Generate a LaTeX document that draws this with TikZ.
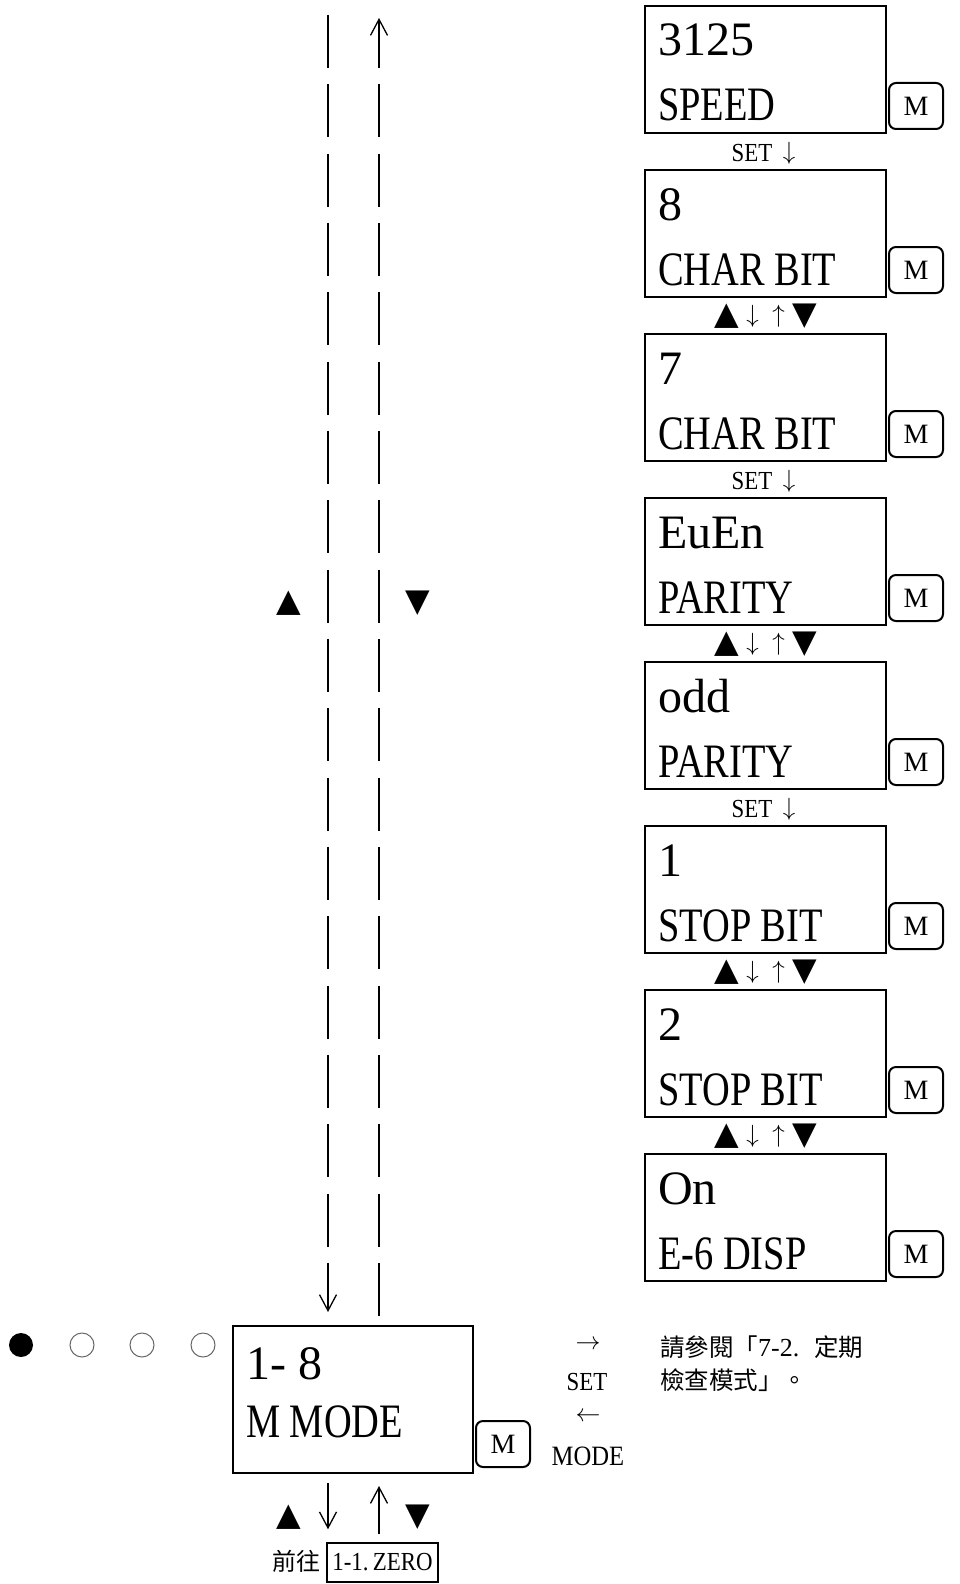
\documentclass[tikz,border=0pt]{standalone}
\usepackage{fontspec}
\setmainfont{Liberation Serif}
\newfontfamily\lcdfont[FakeStretch=0.8]{Liberation Serif}
\newfontfamily\smallfont[FakeStretch=0.88]{Liberation Serif}
\newfontfamily\cjkfont{Noto Sans CJK TC}
\newfontfamily\symfont{DejaVu Sans}
\usetikzlibrary{arrows.meta,positioning,calc}

\tikzset{
  lcd/.style={draw, line width=2pt, minimum width=241pt, minimum height=127pt, inner sep=0pt},
  lcdvalue/.style={anchor=base west, inner sep=0pt, font=\rmfamily\fontsize{48}{48}\selectfont},
  lcdtext/.style={anchor=base west, inner sep=0pt, font=\lcdfont\fontsize{48}{48}\selectfont},
  mkey/.style={draw, line width=2pt, rounded corners=7pt, minimum width=54pt, minimum height=46pt,
    inner sep=0pt, font=\fontsize{28}{28}\selectfont},
  smalltext/.style={inner sep=0pt, font=\smallfont\fontsize{26}{26}\selectfont},
  arrowtext/.style={inner sep=0pt, font=\fontsize{26}{26}\selectfont},
  tri/.style={inner sep=0pt, font=\symfont\fontsize{32}{32}\selectfont},
  dashline/.style={line width=2pt, dash pattern=on 53pt off 16.33pt},
  barb/.style={-{Straight Barb[length=16pt,width=17pt,line width=1.3pt]}},
}

\begin{document}
\begin{tikzpicture}[x=1pt, y=-1pt]
  \useasboundingbox (0,0) rectangle (959,1584);

  % display column on the right
  \foreach \n/\t/\a/\b in {1/6/3125/SPEED, 2/170/8/CHAR BIT, 3/334/7/CHAR BIT,
      4/498/EuEn/PARITY, 5/662/odd/PARITY, 6/826/1/STOP BIT, 7/990/2/STOP BIT,
      8/1154/On/E-6 DISP} {
    \node[lcd] (d\n) at (765.5, \t+63.5) {};
    \node[lcdvalue] at ([xshift=14pt, yshift=-51pt]d\n.north west) {\a};
    \node[lcdtext] at ([xshift=14pt, yshift=-116pt]d\n.north west) {\b};
    \node[mkey] (m\n) at (916, \t+100) {M};
  }

  % key labels between the displays
  \foreach \n in {1,3,5} {
    \node[smalltext] at ([xshift=-13.5pt, yshift=-19pt]d\n.south) {SET};
    \node[arrowtext] at ([xshift=23.5pt, yshift=-19pt]d\n.south) {$\downarrow$};
  }
  \foreach \n in {2,4,6,7} {
    \node[tri] at ([xshift=-38.5pt, yshift=-18pt]d\n.south) {▲};
    \node[arrowtext] at ([xshift=-13pt, yshift=-18pt]d\n.south) {$\downarrow$};
    \node[arrowtext] at ([xshift=13pt, yshift=-18pt]d\n.south) {$\uparrow$};
    \node[tri] at ([xshift=39.5pt, yshift=-18pt]d\n.south) {▼};
  }

  % main mode display
  \node[lcd, minimum width=240pt, minimum height=147pt] (main) at (353, 1399.5) {};
  \node[lcdvalue] at ([xshift=14pt, yshift=-54pt]main.north west) {1- 8};
  \node[lcdtext] at ([xshift=14pt, yshift=-112pt]main.north west) {M MODE};
  \node[mkey] (mmain) at (503, 1444) {M};

  % position dots
  \fill (21, 1345) circle (12);
  \foreach \x in {82, 142, 203}
    \draw[gray!80!black, line width=1pt] (\x, 1345) circle (12);

  % dashed loop to the display column
  \coordinate (topL) at (328, 15);
  \coordinate (topR) at (379, 18);
  \draw[dashline, barb, shorten >=13pt] (topL) -- (topL |- main.north);
  \draw[dashline, barb, shorten <=9pt] (topR |- main.north) -- (topR);
  \node[tri] at (289, 603) {▲};
  \node[tri] at (418, 603) {▼};

  % next item below
  \node[draw, line width=1.5pt, minimum width=111pt, minimum height=39pt, inner sep=0pt,
    font=\smallfont\fontsize{26}{26}\selectfont] (zero) at (382.5, 1562.5) {1-1.\,ZERO};
  \node[anchor=east, inner sep=0pt, font=\cjkfont\fontsize{24}{24}\selectfont]
    (goto) at ([xshift=-6pt, yshift=1pt]zero.west) {前往};
  \draw[barb, line width=1.3pt, shorten <=9pt, shorten >=13pt] (main.south -| topL) -- (zero.north -| topL);
  \draw[barb, line width=1.3pt, shorten <=8pt, shorten >=12pt] (zero.north -| topR) -- (main.south -| topR);
  \node[tri] at (289, 1517) {▲};
  \node[tri] at (418, 1517) {▼};

  % SET / MODE keys to the inspection mode
  \node[arrowtext, font=\fontsize{27}{27}\selectfont] at (588, 1345) {$\rightarrow$};
  \node[smalltext] at (587, 1382) {SET};
  \node[arrowtext, font=\fontsize{27}{27}\selectfont] at (588, 1417) {$\leftarrow$};
  \node[smalltext, font=\smallfont\fontsize{28}{28}\selectfont] at (588, 1456) {MODE};
  \node[anchor=base west, inner sep=0pt, font=\cjkfont\fontsize{24.5}{24.5}\selectfont]
    (ref1) at (660, 1356) {請參閱「{\rmfamily\fontsize{26}{26}\selectfont 7-2.}\hspace{15pt}定期};
  \node[anchor=base west, inner sep=0pt, font=\cjkfont\fontsize{24.5}{24.5}\selectfont]
    (ref2) at (660, 1389) {檢查模式」。};
\end{tikzpicture}
\end{document}
